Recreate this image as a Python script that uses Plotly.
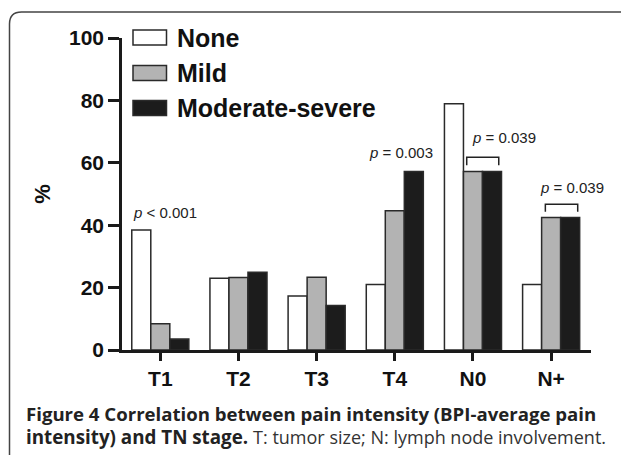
import plotly.graph_objects as go

categories = ["T1", "T2", "T3", "T4", "N0", "N+"]
none_vals = [38.5, 23.0, 17.3, 21.0, 78.9, 21.0]
mild_vals = [8.4, 23.2, 23.3, 44.6, 57.2, 42.5]
modsev_vals = [3.5, 24.9, 14.3, 57.2, 57.2, 42.5]
series_names = ["None", "Mild", "Moderate-severe"]
y_ticks = [0, 20, 40, 60, 80, 100]

colors = ["#ffffff", "#b3b3b3", "#1c1c1c"]
OFF = 8  # browser body margin
W, H = 629 - OFF, 455 - OFF
L, R, T, B = 122 - OFF, 38, 38 - OFF, 105
pw, ph = W - L - R, H - T - B

def px(x):
    return (x - OFF - L) / pw

def py(y):
    return (H - B - (y - OFF)) / ph

fig = go.Figure()
xs = list(range(len(categories)))
for name, vals, col in zip(series_names, [none_vals, mild_vals, modsev_vals], colors):
    fig.add_trace(go.Bar(
        x=xs, y=vals, name=name, marker=dict(color=col, line=dict(color="#2a2a2a", width=1.5)),
        showlegend=False,
    ))

fig.update_layout(
    width=W, height=H, margin=dict(l=L, r=R, t=T, b=B),
    barmode="group", bargap=0.27, bargroupgap=0,
    plot_bgcolor="white", paper_bgcolor="white",
    font=dict(family="Liberation Sans, Arial, sans-serif", color="#111111"),
)
fig.update_xaxes(
    range=[-0.49, 5.51], tickmode="array", tickvals=xs, ticktext=categories,
    showgrid=False, zeroline=False, showline=True, linecolor="#1a1a1a", linewidth=2.5,
    ticks="outside", ticklen=8, tickwidth=2.5, tickcolor="#1a1a1a",
    tickfont=dict(size=21, family="Liberation Sans, Arial, sans-serif", weight="bold"),
)
fig.update_yaxes(
    range=[0, 100], tickvals=y_ticks, showgrid=False, zeroline=False,
    showline=True, linecolor="#1a1a1a", linewidth=2.5,
    ticks="outside", ticklen=11, tickwidth=2.5, tickcolor="#1a1a1a",
    tickfont=dict(size=21, family="Liberation Sans, Arial, sans-serif", weight="bold"),
    title=dict(text="%", font=dict(size=22, weight="bold"), standoff=13),
)

# legend drawn manually
leg_y = [37.5, 73, 108]
for name, col, yc in zip(series_names, colors, leg_y):
    fig.add_shape(type="rect", xref="paper", yref="paper",
                  x0=px(133), x1=px(166.5), y0=py(yc - 7.5), y1=py(yc + 7.5),
                  fillcolor=col, line=dict(color="#2a2a2a", width=1.5))
    fig.add_annotation(xref="paper", yref="paper", x=px(175), y=py(yc), text=f"<b>{name}</b>",
                       showarrow=False, xanchor="left", yanchor="middle",
                       font=dict(size=25, family="Liberation Sans, Arial, sans-serif", color="#111111"))

# p-value annotations
pann = [(-0.375, 44.0, "<i>p</i> < 0.001"), (2.64, 63.3, "<i>p</i> = 0.003"),
        (3.965, 68.1, "<i>p</i> = 0.039"), (4.836, 52.2, "<i>p</i> = 0.039")]
for x, y, t in pann:
    fig.add_annotation(x=x, y=y, xref="x", yref="y", text=t, showarrow=False,
                       xanchor="left", yanchor="middle",
                       font=dict(size=15, family="Liberation Sans, Arial, sans-serif", color="#222222"))

# brackets
for x0, x1, ytop, ybot in [(3.92, 4.33, 61.8, 59.2), (4.926, 5.34, 46.7, 44.3)]:
    fig.add_shape(type="path", xref="x", yref="y",
                  path=f"M{x0},{ybot} L{x0},{ytop} L{x1},{ytop} L{x1},{ybot}",
                  line=dict(color="#222222", width=1.5))

# rounded border
r = 12
x0b, y0b, x1b, y1b = 9.5, 12, 645, 470
path = (f"M{px(x0b)},{py(y1b)} L{px(x0b)},{py(y0b + r)} "
        f"Q{px(x0b)},{py(y0b)} {px(x0b + r)},{py(y0b)} "
        f"L{px(x1b - r)},{py(y0b)} Q{px(x1b)},{py(y0b)} {px(x1b)},{py(y0b + r)} "
        f"L{px(x1b)},{py(y1b)}")
fig.add_shape(type="path", xref="paper", yref="paper", path=path,
              line=dict(color="#444444", width=1.5), layer="below")

# caption (two lines)
fig.add_annotation(xref="paper", yref="paper", x=px(24), y=py(413), xanchor="left", yanchor="middle",
                   showarrow=False,
                   text="<b>Figure 4 Correlation between pain intensity (BPI-average pain</b>",
                   font=dict(size=18.6, family="Open Sans, sans-serif", color="#222222"))
fig.add_annotation(xref="paper", yref="paper", x=px(24), y=py(436.5), xanchor="left", yanchor="middle",
                   showarrow=False,
                   text="<b>intensity) and TN stage.</b> "
                        "<span style='font-size:18px;color:#333333'>T: tumor size; N: lymph node involvement.</span>",
                   font=dict(size=18.8, family="Open Sans, sans-serif", color="#222222"))

fig.write_html("out.html")
